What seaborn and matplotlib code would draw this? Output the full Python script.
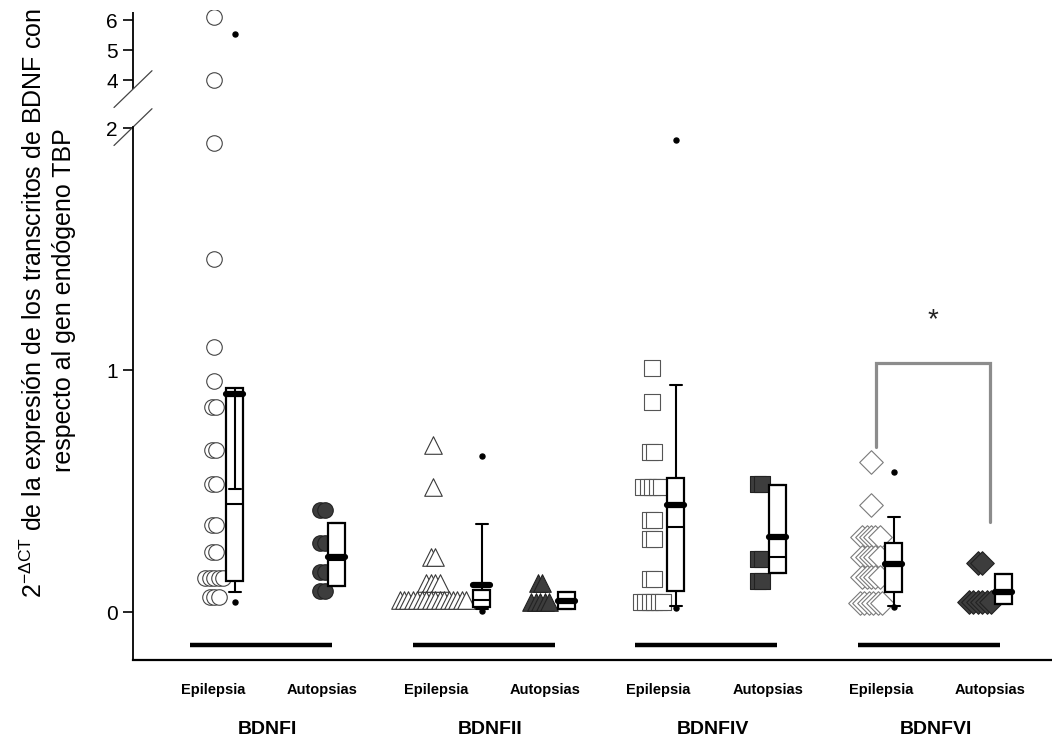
import numpy as np
import pandas as pd
import matplotlib
matplotlib.use("Agg")
import matplotlib.pyplot as plt
import matplotlib.transforms as mtransforms
import seaborn as sns

# ---------------------------------------------------------------- data
genes = ["BDNFI", "BDNFII", "BDNFIV", "BDNFVI"]
cohorts = ["Epilepsia", "Autopsias"]

# 2^-dCT values of each transcript (relative to TBP)
bdnfi_epilepsia = [6.1, 4.0, 1.94, 1.46, 1.095, 0.955, 0.848, 0.848, 0.67, 0.67,
                   0.53, 0.53, 0.36, 0.36, 0.25, 0.25, 0.14, 0.14, 0.14, 0.14,
                   0.14, 0.062, 0.062, 0.062]
bdnfi_autopsias = [0.42, 0.42, 0.285, 0.285, 0.165, 0.165, 0.087, 0.087]
bdnfii_epilepsia = [0.69, 0.517, 0.228, 0.228, 0.12, 0.12, 0.12, 0.12] + [0.05] * 16
bdnfii_autopsias = [0.12, 0.12] + [0.043] * 5
bdnfiv_epilepsia = [1.01, 0.87, 0.66, 0.66, 0.518, 0.518, 0.518, 0.518, 0.518,
                    0.38, 0.38, 0.30, 0.30, 0.135, 0.135] + [0.04] * 6
bdnfiv_autopsias = [0.528, 0.528, 0.218, 0.218, 0.13, 0.13]
bdnfvi_epilepsia = [0.621, 0.442] + [0.309] * 5 + [0.226] * 5 + [0.146] * 5 + [0.036] * 6
bdnfvi_autopsias = [0.204, 0.204] + [0.043] * 6

series_values = [bdnfi_epilepsia, bdnfi_autopsias, bdnfii_epilepsia, bdnfii_autopsias,
                 bdnfiv_epilepsia, bdnfiv_autopsias, bdnfvi_epilepsia, bdnfvi_autopsias]

# box summaries (same order as series_values)
box_q1 = [0.13, 0.107, 0.022, 0.012, 0.088, 0.16, 0.084, 0.033]
box_median = [0.446, 0.215, 0.05, 0.045, 0.35, 0.229, 0.20, 0.075]
box_q3 = [0.927, 0.368, 0.091, 0.081, 0.555, 0.525, 0.286, 0.156]
box_mean = [0.90, 0.229, 0.11, 0.047, 0.442, 0.311, 0.198, 0.084]
whisker_low = [0.084, 0.107, 0.012, 0.012, 0.025, 0.16, 0.026, 0.033]
whisker_high = [0.51, 0.368, 0.364, 0.081, 0.94, 0.525, 0.394, 0.156]
outliers = [[0.04, 5.53], [], [0.005, 0.646], [], [0.018, 1.95], [], [0.022, 0.579], []]

# significance bracket BDNFVI Epilepsia vs Autopsias
bracket_top = 1.029
bracket_left_end = 0.682
bracket_right_end = 0.372
significance_mark = "*"

# ---------------------------------------------------------------- layout
# offsets within each gene group (group spacing = 1)
marker_offsets = [-0.211, 0.276, -0.228, 0.253, -0.244, 0.241, -0.261, 0.228]
box_offsets = [-0.117, 0.341, -0.008, 0.370, -0.137, 0.319, -0.158, 0.334]
label_offsets = {"Epilepsia": -0.215, "Autopsias": 0.275}
stack_step = 0.02
box_width = 0.0763
gene_markers = ["o", "^", "s", "D"]
gene_sizes = [125, 160, 144, 144]
epi_edges = ["#444444", "#3a3a3a", "#555555", "#7a7a7a"]
dark_fill = "#3d3d3d"

# broken y axis: real values above the gap are compressed
BREAK_LO, BREAK_HI = 2.004, 3.70
UPPER_SLOPE = 0.124
_xs = [-100.0, BREAK_LO, BREAK_HI, 200.0]
_ys = [-100.0, BREAK_LO, 2.161, 2.161 + (200.0 - BREAK_HI) * UPPER_SLOPE]


def fwd(y):
    return np.interp(y, _xs, _ys)


def inv(y):
    return np.interp(y, _ys, _xs)


# ---------------------------------------------------------------- figure
sns.set_theme(style="white")
plt.rcParams["font.family"] = ["Liberation Sans", "DejaVu Sans"]
plt.rcParams["mathtext.fontset"] = "custom"
plt.rcParams["mathtext.rm"] = "Liberation Sans"
plt.rcParams["mathtext.it"] = "Liberation Sans"
plt.rcParams["mathtext.default"] = "regular"
for key in ["text.color", "axes.labelcolor", "xtick.color", "ytick.color"]:
    plt.rcParams[key] = "black"

W, H = 1052, 744
fig = plt.figure(figsize=(W / 100, H / 100), dpi=100)
ax_left, ax_right, ax_top, ax_bottom = 133, 1052, 10, 660
ax = fig.add_axes([ax_left / W, 1 - ax_bottom / H, (ax_right - ax_left) / W,
                   (ax_bottom - ax_top) / H])
ax.set_yscale("function", functions=(fwd, inv))
ax.set_ylim(-0.198, 6.336)
ax.set_xlim(-0.575, 3.552)

# stacked markers: identical values spread sideways
rows = []
for idx, vals in enumerate(series_values):
    g = idx // 2
    base = g + marker_offsets[idx]
    counts = {}
    for v in vals:
        counts[v] = counts.get(v, 0) + 1
    for v, n in counts.items():
        for k in range(n):
            rows.append({"gene": genes[g], "cohort": cohorts[idx % 2],
                         "x": base + (k - (n - 1) / 2) * stack_step, "y": v,
                         "series": idx})
df = pd.DataFrame(rows)

for idx in range(len(series_values)):
    g = idx // 2
    sub = df[df["series"] == idx]
    if idx % 2 == 0:
        fc, ec, lw = "white", epi_edges[g], 0.8
    else:
        fc, ec, lw = dark_fill, "#222222", 0.8
    sns.scatterplot(data=sub, x="x", y="y", marker=gene_markers[g], s=gene_sizes[g],
                    color=fc, edgecolor=ec, linewidth=lw, ax=ax, legend=False,
                    zorder=2)

# box plots from summary values
stats = []
for i in range(len(series_values)):
    stats.append({"q1": box_q1[i], "med": box_median[i], "q3": box_q3[i],
                  "mean": box_mean[i], "whislo": whisker_low[i],
                  "whishi": whisker_high[i], "fliers": outliers[i]})
positions = [i // 2 + box_offsets[i] for i in range(len(series_values))]
ax.bxp(stats, positions=positions, widths=box_width, capwidths=box_width * 0.72,
       patch_artist=True, showmeans=True, meanline=True, manage_ticks=False,
       boxprops=dict(facecolor="white", edgecolor="black", linewidth=1.6),
       medianprops=dict(color="black", linewidth=1.5),
       meanprops=dict(color="black", linewidth=4.5, linestyle="-",
                      solid_capstyle="round"),
       whiskerprops=dict(color="black", linewidth=1.5),
       capprops=dict(color="black", linewidth=1.5),
       flierprops=dict(marker="o", markerfacecolor="black", markeredgecolor="black",
                       markersize=3.6),
       zorder=3)

# group underline bars
for g in range(len(genes)):
    ax.hlines(-0.136, g - 0.319, g + 0.319, color="black", linewidth=3.2, zorder=1)

# significance bracket
g = 3
xl, xr = g - 0.238, g + 0.273
ax.plot([xl, xl, xr, xr], [bracket_left_end, bracket_top, bracket_top, bracket_right_end],
        color="#8c8c8c", linewidth=2.3, solid_joinstyle="miter", zorder=1)
ax.text(g + 0.018, 1.205, significance_mark, ha="center", va="center", fontsize=20,
        color="#222222")

# axes styling
for side in ["top", "right"]:
    ax.spines[side].set_visible(False)
ax.spines["bottom"].set_linewidth(1.6)
ax.spines["bottom"].set_color("black")
ax.spines["left"].set_linewidth(1.3)
ax.spines["left"].set_color("black")
ax.spines["left"].set_bounds(-0.198, BREAK_LO)
ytrans = mtransforms.blended_transform_factory(ax.transAxes, ax.transData)
ax.plot([0, 0], [BREAK_HI, 6.27], color="black", linewidth=1.3, transform=ytrans,
        clip_on=False, solid_capstyle="butt")
# break marks
strans = mtransforms.blended_transform_factory(ax.transAxes, ax.transLimits + ax.transAxes)
hw, hh = 19 / (ax_right - ax_left), 0.076
for yc in (fwd(BREAK_LO), fwd(BREAK_HI)):
    ax.plot([-hw, hw], [yc - hh, yc + hh], color="#444444", linewidth=0.9,
            transform=strans, clip_on=False)

ax.set_yticks([0, 1, 2, 4, 5, 6])
ax.set_yticklabels(["0", "1", "2", "4", "5", "6"])
ax.tick_params(axis="y", direction="out", length=7, width=1.2, labelsize=15, pad=4,
               left=True, color="black", labelcolor="black")
ax.tick_params(axis="x", bottom=False, labelbottom=False)
ax.set_xlabel("")
ax.set_ylabel("")

# category labels
xtrans = mtransforms.blended_transform_factory(ax.transData, ax.transAxes)
label_font = ["Liberation Sans Narrow", "Liberation Sans"]
for g, gene in enumerate(genes):
    for c in cohorts:
        ax.text(g + label_offsets[c], -30 / 650, c, transform=xtrans, ha="center",
                va="center", fontsize=10.5, fontweight="bold", family=label_font)
    ax.text(g + 0.03, -70 / 650, gene, transform=xtrans, ha="center", va="center",
            fontsize=14, fontweight="bold", family=label_font)

# y axis title
fig.text(33 / W, 1 - 303 / H,
         r"2$^{-\Delta CT}$ de la expresión de los transcritos de BDNF con",
         rotation=90, ha="center", va="center", fontsize=18)
fig.text(64 / W, 1 - 300 / H, "respecto al gen endógeno TBP", rotation=90,
         ha="center", va="center", fontsize=18)

fig.savefig("out.png", dpi=100)
